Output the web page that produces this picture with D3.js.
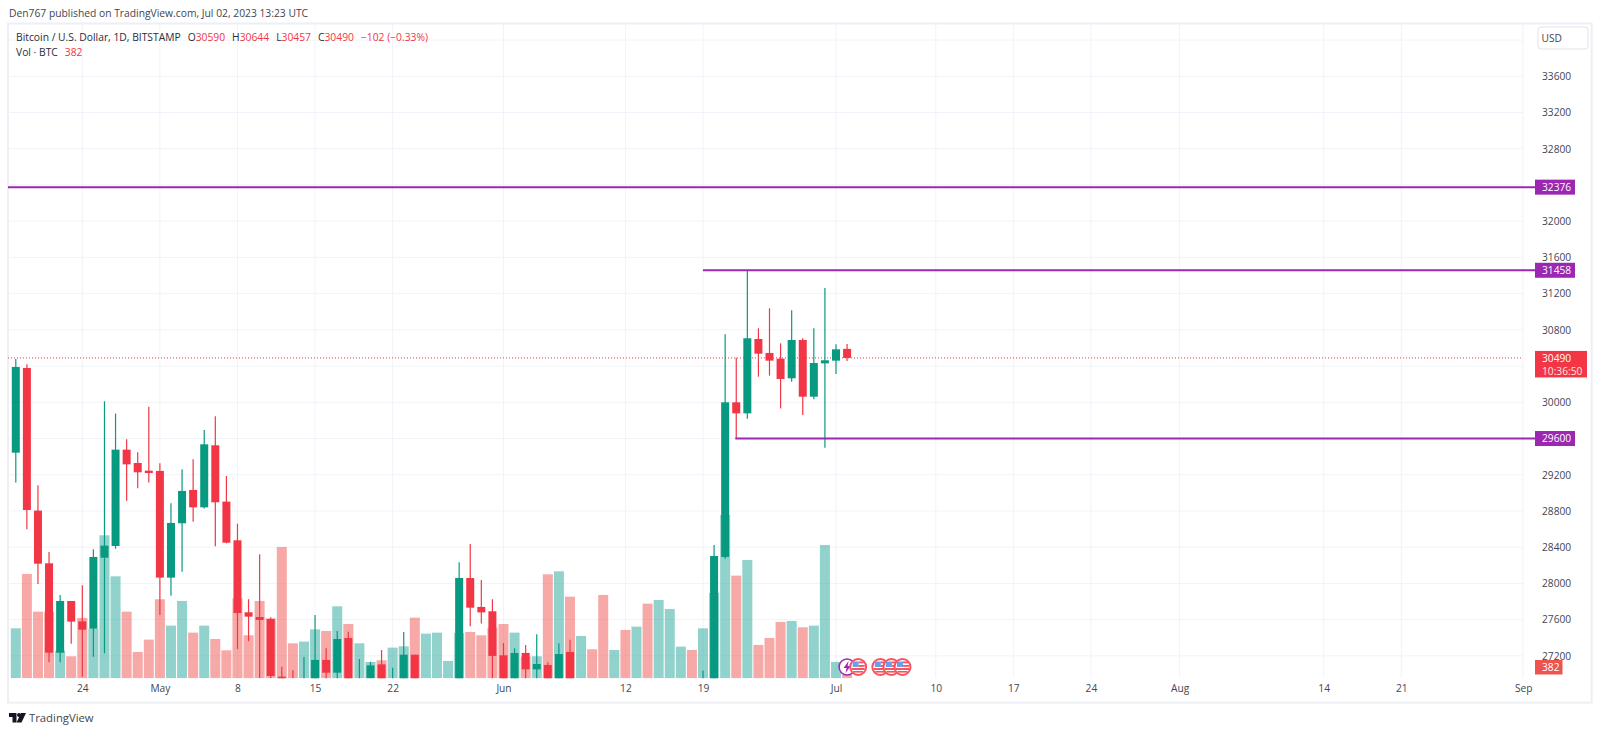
<!DOCTYPE html>
<html>
<head>
<meta charset="utf-8">
<script src="https://cdn.jsdelivr.net/npm/d3@7"></script>
<style>
html,body{margin:0;padding:0;background:#fff;}
svg{display:block;}
text{font-family:"Open Sans",sans-serif;}
</style>
</head>
<body>
<div id="chart"></div>
<script>
var width = 1600, height = 734;

// first candle is Apr 18 2023, one entry per day. month breaks are on new lines
var startDate = Date.UTC(2023,3,18);
var opens = [29444,30379,28804,28222,27235,27806,27581,27500,28284,28413,29477,29330,29245,
    29242,28064,28664,29032,28840,29525,28903,28476,27681,27629,27607,26970,26800,26780,26900,27155,27014,27397,26800,26950,27106,26800,26900,27213,26340,26480,26720,26860,28060,27740,27692,
    27206,26900,27232,27051,27099,26900,27243,26340,26500,26470,25850,25930,25900,25920,25120,25580,26340,26510,26340,26840,28292,30000,29878,30699,30545,30482,30265,30688,30062,30430,
    30460,30590];
var closes = [30390,28811,28218,27235,27806,27578,27489,28292,28417,29477,29315,29227,29219,
    28064,28667,29021,28840,29536,28896,28450,27673,27633,27596,26978,26800,26760,26900,27155,27014,27386,26800,26890,27095,26900,26900,27213,26350,26480,26720,26860,28060,27732,27680,27199,
    26900,27232,27051,27110,26900,27220,26340,26500,26470,25850,25930,25900,25920,25120,25580,26340,26510,26340,26840,28303,30000,29878,30707,30537,30460,30257,30688,30062,30434,30464,
    30585,30490];
var highs = [30478,30419,29083,28347,27872,27806,27979,28377,30011,29875,29591,29448,29952,
    29326,28885,29260,29370,29694,29845,29186,28660,27824,28321,27626,27081,27040,27188,27651,27283,27475,27467,27166,27136,27265,27070,27464,27213,26590,26890,26900,28233,28435,28038,27824,
    27342,27283,27320,27438,27129,27338,27379,26800,26770,26530,26200,26100,26400,26050,25750,26500,26800,26700,27037,28424,30751,30493,31454,30817,31038,30651,31016,30706,30817,31262,
    30640,30644];
var lows = [29113,28597,27994,27129,27129,27335,26970,27191,27228,28384,28914,29050,29113,
    27651,27865,28130,28682,28826,28410,28443,27276,27361,26956,26956,25800,26650,26600,26800,26900,26900,26750,26600,26800,26800,26600,26800,26100,25870,26340,26650,26800,27526,27556,26800,
    26700,26800,26900,26900,25400,25400,26200,26200,26300,25400,25600,25700,25650,24800,24800,25170,26200,26200,26260,26650,28273,29599,29819,30283,30294,29933,30228,29860,30033,29499,
    30313,30457];
var volumes = [5800,12104,7734,7734,3210,2552,6999,5762,16589,11833,7734,3055,4486,
    9165,6110,8971,5298,6110,4563,3248,9281,4988,8971,6961,15236,4060,4254,5684,5491,8353,6303,4060,1895,2088,3558,3712,7038,5182,5298,2011,5259,5375,4988,5878,
    6303,5298,2514,2552,12065,12413,9474,4911,3364,9668,3287,5607,5994,8662,9087,8043,3674,3287,5801,9900,18948,11910,13728,3867,4679,6535,6651,5917,6110,15468,
    1895,382];

var priceGrid = [34000,33600,33200,32800,32400,32000,31600,31200,30800,30400,30000,29600,29200,28800,28400,28000,27600,27200];
var priceLabels = [33600,33200,32800,32000,31600,31200,30800,30000,29200,28800,28400,28000,27600,27200];
var levels = [32376,31458,29600];
var levelStarts = [null,Date.UTC(2023,5,19),Date.UTC(2023,5,21,22)];
var lastPrice = 30490, lastVolume = 382;

var timeTicks = [Date.UTC(2023,3,24),Date.UTC(2023,4,1),Date.UTC(2023,4,8),Date.UTC(2023,4,15),Date.UTC(2023,4,22),
    Date.UTC(2023,5,1),Date.UTC(2023,5,12),Date.UTC(2023,5,19),Date.UTC(2023,6,1),Date.UTC(2023,6,10),Date.UTC(2023,6,17),Date.UTC(2023,6,24),
    Date.UTC(2023,7,1),Date.UTC(2023,7,14),Date.UTC(2023,7,21),Date.UTC(2023,8,1)];
var timeLabels = ['24','May','8','15','22','Jun','12','19','Jul','10','17','24','Aug','14','21','Sep'];

var eventDates = [Date.UTC(2023,6,2),Date.UTC(2023,6,3),Date.UTC(2023,6,5),Date.UTC(2023,6,6),Date.UTC(2023,6,7)];
var eventKinds = ['bolt','flag','flag','flag','flag'];

var DAY = 86400000;
var pane = {l:8,t:23.5,r:1523,b:678.3,fr:1591.7,fb:702.7};

var x = d3.scaleUtc().domain([Date.UTC(2023,3,24),Date.UTC(2023,6,1)]).range([82.3,836]);
var y = d3.scaleLinear().domain([33600,30000]).range([76.3,402.3]);
var v = d3.scaleLinear().domain([0,20000]).range([pane.b,pane.b-172.4]);

var green = '#089981', red = '#f23645', purple = '#9c27b0', grid = '#f0f3fa', textCol = '#434651', legendCol = '#2a2e39';
var tickFont = '10.2px', labelFont = '10.3px';

var candles = opens.map(function(o,i){
    return {t:startDate+i*DAY,o:o,c:closes[i],h:highs[i],l:lows[i],vol:volumes[i],up:closes[i]>=o};
});

var svg = d3.select('#chart').append('svg').attr('width',width).attr('height',height);

svg.append('clipPath').attr('id','paneClip').append('rect')
    .attr('x',pane.l).attr('y',pane.t).attr('width',pane.r-pane.l).attr('height',pane.b-pane.t);

//frame
svg.append('rect').attr('x',pane.l).attr('y',pane.t).attr('width',pane.fr-pane.l).attr('height',pane.fb-pane.t)
    .attr('fill','#fff').attr('stroke','#eeeff5').attr('stroke-width',2);
svg.append('line').attr('x1',pane.r).attr('x2',pane.r).attr('y1',pane.t).attr('y2',pane.b).attr('stroke',grid);

//grid
var plot = svg.append('g').attr('clip-path','url(#paneClip)');
plot.selectAll('.hgrid').data(priceGrid).enter().append('line').attr('class','hgrid')
    .attr('x1',pane.l).attr('x2',pane.r).attr('y1',function(d){return y(d);}).attr('y2',function(d){return y(d);})
    .attr('stroke',grid);
plot.selectAll('.vgrid').data(timeTicks).enter().append('line').attr('class','vgrid')
    .attr('y1',pane.t).attr('y2',pane.b).attr('x1',function(d){return x(d);}).attr('x2',function(d){return x(d);})
    .attr('stroke',grid);

//volume
plot.selectAll('.vol').data(candles).enter().append('rect').attr('class','vol')
    .attr('x',function(d){return x(d.t)-5;})
    .attr('width',10)
    .attr('y',function(d){return v(d.vol);})
    .attr('height',function(d){return pane.b-v(d.vol);})
    .attr('fill',function(d){return d.up?'#26a69a':'#ef5350';})
    .attr('fill-opacity',.5);

//last price line
plot.append('line').attr('x1',pane.l).attr('x2',pane.r).attr('y1',y(lastPrice)).attr('y2',y(lastPrice))
    .attr('stroke',red).attr('stroke-dasharray','1 2');

//candles
plot.selectAll('.wick').data(candles).enter().append('line').attr('class','wick')
    .attr('x1',function(d){return x(d.t);}).attr('x2',function(d){return x(d.t);})
    .attr('y1',function(d){return y(d.h);}).attr('y2',function(d){return y(d.l);})
    .attr('stroke',function(d){return d.up?green:red;}).attr('stroke-width',1.2);
plot.selectAll('.body').data(candles).enter().append('rect').attr('class','body')
    .attr('x',function(d){return x(d.t)-4;}).attr('width',8)
    .attr('y',function(d){return y(Math.max(d.o,d.c));})
    .attr('height',function(d){return Math.max(1.5,Math.abs(y(d.o)-y(d.c)));})
    .attr('fill',function(d){return d.up?green:red;});

//horizontal levels
svg.selectAll('.level').data(levels).enter().append('line').attr('class','level')
    .attr('x1',function(d,i){return levelStarts[i]===null?pane.l:x(levelStarts[i]);})
    .attr('x2',1535)
    .attr('y1',function(d){return y(d);}).attr('y2',function(d){return y(d);})
    .attr('stroke',purple).attr('stroke-width',2);

//event icons
var icons = svg.selectAll('.icon').data(eventDates).enter().append('g').attr('class','icon')
    .attr('transform',function(d){return 'translate('+x(d)+',667)';});
icons.each(function(d,i){
    var g = d3.select(this);
    if(eventKinds[i]==='bolt'){
        g.append('circle').attr('r',8).attr('fill','#fff').attr('stroke',purple).attr('stroke-width',1.5);
        g.append('path').attr('d','M1.5,-6 L-3.5,1 L-0.5,1 L-1.5,6 L3.5,-1 L0.5,-1 Z').attr('fill',purple);
    } else {
        g.append('circle').attr('r',8).attr('fill','#fff').attr('stroke','#f7525f').attr('stroke-width',2);
        g.append('rect').attr('x',-5.5).attr('y',-5.5).attr('width',6).attr('height',5.5).attr('fill','#6d9eeb');
        g.append('rect').attr('x',0.5).attr('y',-5.5).attr('width',5).attr('height',1.8).attr('fill','#f7525f');
        g.append('rect').attr('x',0.5).attr('y',-2).attr('width',6).attr('height',1.8).attr('fill','#f7525f');
        g.append('rect').attr('x',-6.5).attr('y',1).attr('width',13).attr('height',2).attr('fill','#f7525f');
        g.append('rect').attr('x',-5).attr('y',4).attr('width',10).attr('height',1.6).attr('fill','#f7525f');
    }
});

//price axis
var priceAxis = d3.axisRight(y).tickValues(priceLabels).tickSize(0).tickPadding(0).tickFormat(d3.format('d'));
var pa = svg.append('g').attr('transform','translate(1542,0)').call(priceAxis);
pa.select('.domain').remove();
pa.selectAll('text').attr('fill',textCol).style('font-size',tickFont).style('font-family','"Open Sans",sans-serif');

//time axis
var timeAxis = d3.axisBottom(x).tickValues(timeTicks).tickSize(0).tickPadding(0)
    .tickFormat(function(d,i){return timeLabels[i];});
var ta = svg.append('g').attr('transform','translate(0,684.5)').call(timeAxis);
ta.select('.domain').remove();
ta.selectAll('text').attr('fill',textCol).style('font-size',tickFont).style('font-family','"Open Sans",sans-serif');

//price tags
svg.selectAll('.tag').data(levels).enter().append('rect').attr('class','tag')
    .attr('x',1535).attr('width',40).attr('height',15)
    .attr('y',function(d){return y(d)-7.5;}).attr('fill',purple);
svg.selectAll('.tagText').data(levels).enter().append('text').attr('class','tagText')
    .attr('x',1542).attr('y',function(d){return y(d)+3.7;})
    .attr('fill','#fff').style('font-size',tickFont).text(function(d){return d;});

svg.append('rect').attr('x',1535).attr('y',y(lastPrice)-7).attr('width',52).attr('height',26.5).attr('fill',red);
svg.append('text').attr('x',1542).attr('y',y(lastPrice)+4).attr('fill','#fff').style('font-size',tickFont).text(lastPrice);
svg.append('text').attr('x',1542).attr('y',y(lastPrice)+17).attr('fill','#fde3e5').style('font-size',tickFont).text('10:36:50');

svg.append('rect').attr('x',1535).attr('y',660).attr('width',27.5).attr('height',14.5).attr('fill','#ef5350');
svg.append('text').attr('x',1542).attr('y',671).attr('fill','#fff').style('font-size',tickFont).text(lastVolume);

//currency box
svg.append('rect').attr('x',1538).attr('y',27).attr('width',50).attr('height',22).attr('rx',3)
    .attr('fill','#fff').attr('stroke','#e0e3eb');
svg.append('text').attr('x',1541.5).attr('y',41.5).attr('fill',textCol).style('font-size',tickFont).text('USD');

//header + legend
svg.append('text').attr('x',9).attr('y',17).attr('fill',textCol).style('font-size',labelFont)
    .text('Den767 published on TradingView.com, Jul 02, 2023 13:23 UTC');

var legend = svg.append('text').attr('x',16).attr('y',41).style('font-size',labelFont);
var legendParts = [['Bitcoin / U.S. Dollar, 1D, BITSTAMP',0,0],['O',0,7],['30590',1,0],['H',0,7],['30644',1,0],['L',0,7],['30457',1,0],['C',0,7],['30490',1,0],['\u2212102 (\u22120.33%)',1,7]];
legendParts.forEach(function(p){
    legend.append('tspan').attr('fill',p[1]?red:legendCol).attr('dx',p[2]).text(p[0]);
});
var legend2 = svg.append('text').attr('x',16).attr('y',56).style('font-size',labelFont);
legend2.append('tspan').attr('fill',legendCol).text('Vol \u00b7 BTC');
legend2.append('tspan').attr('fill',red).attr('dx',7).text(lastVolume);

//footer logo
var logo = svg.append('g').attr('transform','translate(9,713)').attr('fill','#131722');
logo.append('path').attr('d','M0,0 H7.5 V9.5 H3.5 V4 H0 Z');
logo.append('circle').attr('cx',10).attr('cy',2).attr('r',2);
logo.append('path').attr('d','M12,0 H17 L12.5,9.5 H7.5 Z');
svg.append('text').attr('x',29).attr('y',722.3).attr('fill',textCol).style('font-size','11.3px').text('TradingView');
</script>
</body>
</html>
